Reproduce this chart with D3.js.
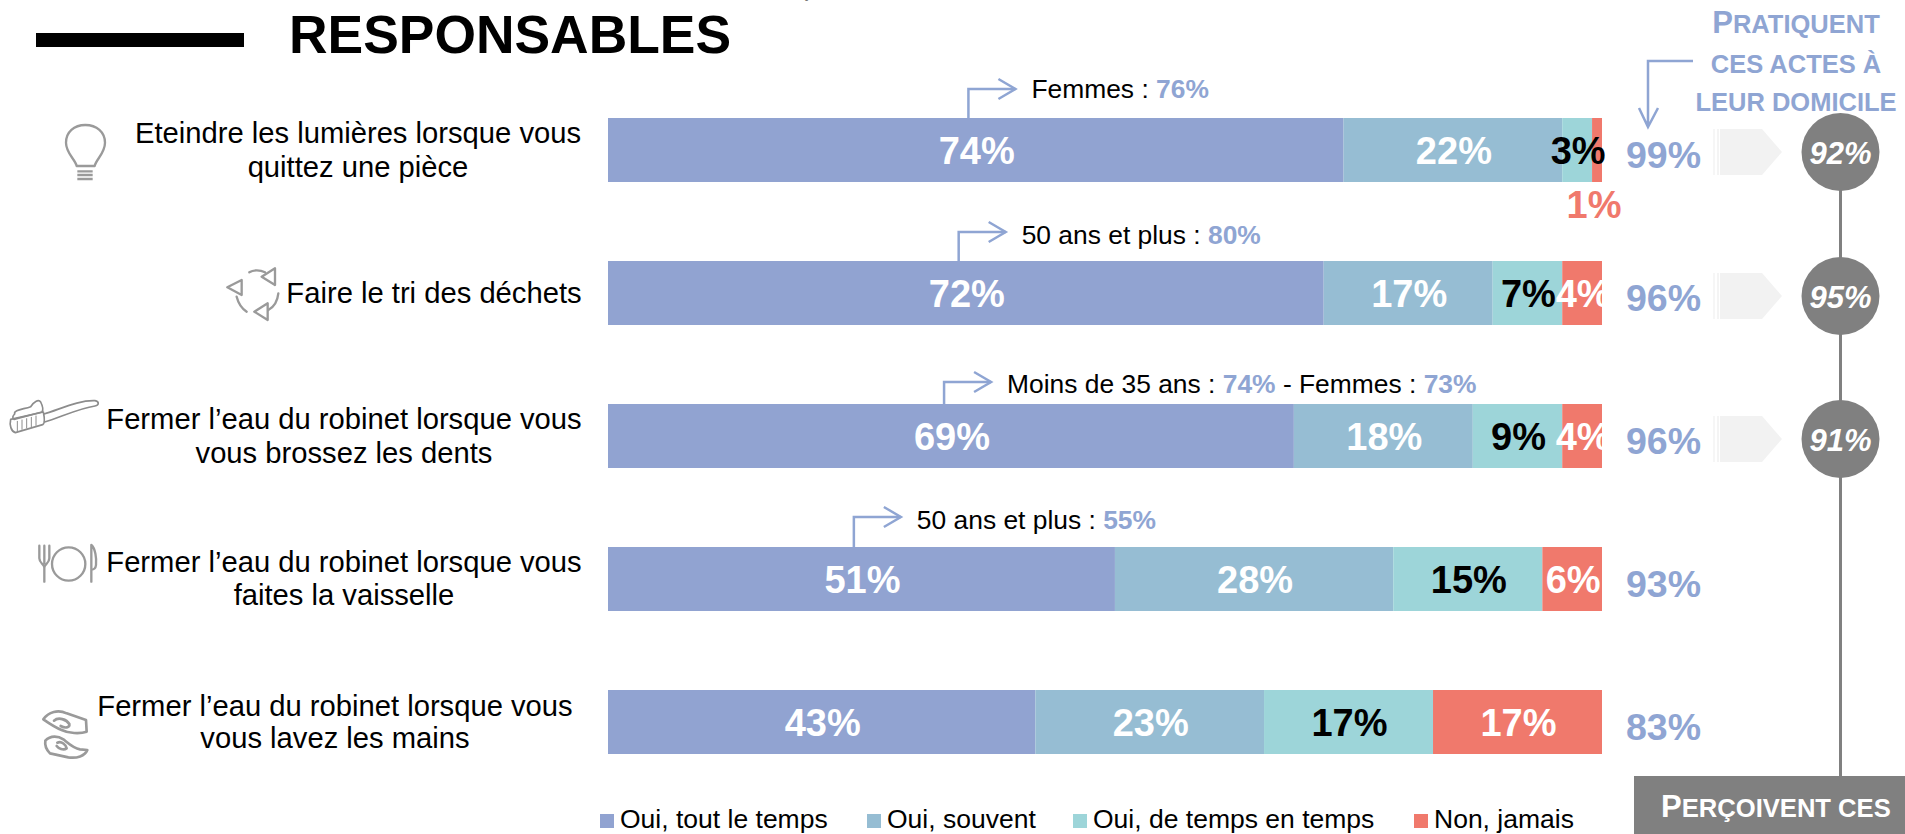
<!DOCTYPE html>
<html lang="fr">
<head>
<meta charset="utf-8">
<title>Responsables</title>
<script src="https://cdn.jsdelivr.net/npm/d3@7/dist/d3.min.js"></script>
<style>
html,body{margin:0;padding:0;background:#fff;overflow:hidden}
svg{display:block}
text{font-family:"Liberation Sans",Arial,sans-serif}
</style>
</head>
<body>
<svg id="chart" width="1905" height="834" viewBox="0 0 1905 834"></svg>
<script>
// ---------- data ----------
const categories = ["lumieres","tri","dents","vaisselle","mains"];
const categoryLines = [
  ["Eteindre les lumières lorsque vous","quittez une pièce"],
  ["Faire le tri des déchets"],
  ["Fermer l’eau du robinet lorsque vous","vous brossez les dents"],
  ["Fermer l’eau du robinet lorsque vous","faites la vaisselle"],
  ["Fermer l’eau du robinet lorsque vous","vous lavez les mains"]
];
const seriesNames = ["Oui, tout le temps","Oui, souvent","Oui, de temps en temps","Non, jamais"];
const toutLeTemps    = [74,72,69,51,43];
const souvent        = [22,17,18,28,23];
const deTempsEnTemps = [3,7,9,15,17];
const jamais         = [1,4,4,6,17];
const pratiquent     = [99,96,96,93,83];
const percoivent     = [92,95,91];
const calloutParts   = [
  [["Femmes : ",0],["76%",1]],
  [["50 ans et plus : ",0],["80%",1]],
  [["Moins de 35 ans : ",0],["74%",1],[" - Femmes : ",0],["73%",1]],
  [["50 ans et plus : ",0],["55%",1]]
];

// ---------- styles / layout ----------
const colors = ["#91a3d1","#96bdd3","#9dd5d9","#f0796c"];
const labelColors = ["#fff","#fff","#000","#fff"];
const accent = "#8fa5d3";
const gray = "#808080";
const iconGray = "#9a9a9a";

const svg = d3.select("#chart");
const x = d3.scaleLinear().domain([0,100]).range([608,1602]);
const y = d3.scaleBand().domain(categories).range([118,754]).paddingInner(79/143).paddingOuter(0);

const seriesArrays = [toutLeTemps,souvent,deTempsEnTemps,jamais];
const rows = categories.map((c,i)=>{
  const o={cat:c}; seriesArrays.forEach((a,k)=>o["s"+k]=a[i]); return o;
});
const stack = d3.stack().keys(["s0","s1","s2","s3"])(rows);

// header
svg.append("rect").attr("x",36).attr("y",33).attr("width",208).attr("height",14).attr("fill","#000");
svg.append("text").attr("x",289).attr("y",53).attr("font-size",53.4).attr("font-weight",700).text("RESPONSABLES");
svg.append("text").attr("x",803).attr("y",-4).attr("font-size",30).attr("font-weight",700).text(",");

// bars
stack.forEach((layer,k)=>{
  svg.append("g").selectAll("rect").data(layer).join("rect")
    .attr("x",d=>x(d[0])).attr("width",d=>x(d[1])-x(d[0]))
    .attr("y",d=>y(d.data.cat)).attr("height",y.bandwidth())
    .attr("fill",colors[k]);
});

// bar labels
stack.forEach((layer,k)=>{
  const outside=(i)=>k===3&&i===0;
  svg.append("g").selectAll("text").data(layer).join("text")
    .attr("x",(d,i)=>(x(d[0])+x(d[1]))/2+1-(outside(i)?4:0))
    .attr("y",(d,i)=> outside(i) ? y(d.data.cat)+y.bandwidth()+36 : y(d.data.cat)+46)
    .attr("text-anchor","middle").attr("font-size",38).attr("font-weight",700)
    .attr("fill",(d,i)=> outside(i) ? colors[3] : labelColors[k])
    .text(d=>d[1]-d[0]+"%");
});

// totals
svg.append("g").selectAll("text").data(categories).join("text")
  .attr("x",1626).attr("y",c=>y(c)+50)
  .attr("font-size",37.5).attr("font-weight",700).attr("fill",accent)
  .text((c,i)=>pratiquent[i]+"%");

// category labels
const labelCenters = [358,434,344,344,335];
const firstBaseline = [25,42,25,25,26];
const lineGap = [34,34,34,33,32];
categories.forEach((c,i)=>{
  const t=svg.append("text").attr("text-anchor","middle").attr("font-size",29.2).attr("fill","#000");
  categoryLines[i].forEach((line,j)=>{
    t.append("tspan").attr("x",labelCenters[i]).attr("y",y(c)+firstBaseline[i]+j*lineGap[i]).text(line);
  });
});

// callouts
const elbowShare = [0.49,0.49,0.49,0.485];
const elbowRise = [29,29,22,30];
const textRise = [20,17,11,18];
const callouts = svg.append("g");
calloutParts.forEach((parts,i)=>{
  const c=categories[i], x0=x(toutLeTemps[i]*elbowShare[i]), top=y(c), ey=top-elbowRise[i];
  callouts.append("path")
    .attr("d",d3.line()([[x0,top],[x0,ey],[x0+47,ey]]))
    .attr("fill","none").attr("stroke",accent).attr("stroke-width",2.5);
  callouts.append("path")
    .attr("d",d3.line()([[x0+30,ey-10],[x0+47,ey],[x0+30,ey+10]]))
    .attr("fill","none").attr("stroke",accent).attr("stroke-width",2.5);
  const t=callouts.append("text").attr("x",x0+63).attr("y",top-textRise[i]).attr("font-size",26.4).style("white-space","pre");
  parts.forEach(p=>t.append("tspan").attr("fill",p[1]?accent:"#000").attr("font-weight",p[1]?700:400).text(p[0]));
});

// right column header
const capLines=[[["P",31],["RATIQUENT",25.5]],[["CES ACTES À",25.5]],[["LEUR DOMICILE",25.5]]];
const capY=[33,73,111];
capLines.forEach((parts,i)=>{
  const t=svg.append("text").attr("x",1796).attr("y",capY[i]).attr("text-anchor","middle").attr("font-weight",700).attr("fill",accent);
  parts.forEach(p=>t.append("tspan").attr("font-size",p[1]).text(p[0]));
});
svg.append("path").attr("d","M1693,61H1648V127M1639,108L1648,127L1658,108")
  .attr("fill","none").attr("stroke",accent).attr("stroke-width",2.5);

// vertical connector, circles, chevrons
svg.append("line").attr("x1",1840.5).attr("x2",1840.5).attr("y1",153).attr("y2",778).attr("stroke",gray).attr("stroke-width",3);
percoivent.forEach((p,i)=>{
  const cy=y(categories[i])+y.bandwidth()/2+3-(i===0?1:0);
  svg.append("path").attr("d",`M1720,${cy-23}H1762L1782,${cy}L1762,${cy+23}H1720Z`).attr("fill","#f2f2f2");
  svg.append("rect").attr("x",1713).attr("y",cy-23).attr("width",2).attr("height",46).attr("fill","#f6f6f6");
  svg.append("rect").attr("x",1717).attr("y",cy-23).attr("width",2).attr("height",46).attr("fill","#f4f4f4");
  svg.append("circle").attr("cx",1840.5).attr("cy",cy).attr("r",39).attr("fill",gray);
  svg.append("text").attr("x",1840.5).attr("y",cy+12).attr("text-anchor","middle")
    .attr("font-size",31).attr("font-weight",700).attr("font-style","italic").attr("fill","#fff").text(p+"%");
});

// bottom box
svg.append("rect").attr("x",1634).attr("y",776).attr("width",271).attr("height",58).attr("fill",gray);
const bt=svg.append("text").attr("x",1661).attr("y",817).attr("font-weight",700).attr("fill","#fff");
bt.append("tspan").attr("font-size",31).text("P");
bt.append("tspan").attr("font-size",25.6).text("ERÇOIVENT CES");

// legend
const legendSwatch=[600,867,1073,1414];
const lg=svg.append("g").selectAll("g").data(seriesNames).join("g");
lg.append("rect").attr("x",(d,i)=>legendSwatch[i]).attr("y",814).attr("width",14).attr("height",14).attr("fill",(d,i)=>colors[i]);
lg.append("text").attr("x",(d,i)=>legendSwatch[i]+20).attr("y",828).attr("font-size",26.5).text(d=>d);

// icons (outlined pictograms; drawn in zoom-crop units of 1/3 px)
const icon=(tx,ty)=>svg.append("g").attr("transform",`translate(${tx},${ty}) scale(${1/3})`)
  .attr("fill","none").attr("stroke",iconGray).attr("stroke-width",7).attr("stroke-linejoin","round").attr("stroke-linecap","round");

// bulb
const bulb=icon(50,110);
bulb.append("path").attr("d","M80,168 C76,148 48,130 48,98 C48,66 72,45 106,45 C140,45 165,66 165,98 C165,130 138,148 134,168 Z");
bulb.append("path").attr("d","M82,184H128M82,195H128M82,207H128").attr("stroke-linecap","butt");

// recycle
const rec=icon(215,255);
rec.append("path").attr("d","M180,40V90L140,65Z M80,75V120L37,97Z M158,145V195L118,170Z");
rec.append("path").attr("d","M103,52C115,44 135,44 150,52 M65,125C70,145 80,160 95,170 M190,115C188,135 178,155 160,165");

// toothbrush
const tb=icon(0,390);
tb.attr("stroke-width",5).attr("stroke","#8c8c8c");
tb.append("path").attr("d","M32,88 C28,105 33,124 46,128 L128,104 C136,100 134,85 130,66 Z");
tb.append("path").attr("d","M44,72 C40,60 70,58 92,50 C100,38 115,26 122,36 C128,48 130,60 126,66 L42,88 C36,84 38,78 44,72 Z");
tb.append("path").attr("d","M132,72 C180,58 235,30 285,32 C298,34 298,46 285,48 C235,55 175,85 134,96");
tb.append("path").attr("d","M52,94V122M66,90V118M80,86V114M94,82V110M108,78V106").attr("stroke-width",3);

// plate and cutlery
const pl=icon(30,535);
pl.attr("stroke-width",7);
pl.append("circle").attr("cx",116).attr("cy",87).attr("r",50);
pl.append("path").attr("d","M28,32V70C28,85 43,88 43,98V140M43,32V85M58,32V70C58,85 43,88 43,98");
pl.append("path").attr("d","M184,140V30C196,40 200,70 198,90C197,100 190,104 184,104");

// hands
const ha=icon(30,700);
ha.attr("stroke-width",8);
ha.append("path").attr("d","M40,58 C55,35 85,28 110,40 L168,60 L170,95 C150,102 115,100 95,90 C75,82 60,72 40,58 Z M72,62 C85,50 110,58 118,72 C120,84 105,85 92,78");
ha.append("path").attr("d","M46,122 C62,105 85,108 100,118 C115,130 130,145 150,148 L172,150 C165,168 140,176 115,172 L60,160 C50,150 44,135 46,122 Z M82,128 C95,122 108,135 110,145 C100,152 85,145 80,138");
</script>
</body>
</html>
